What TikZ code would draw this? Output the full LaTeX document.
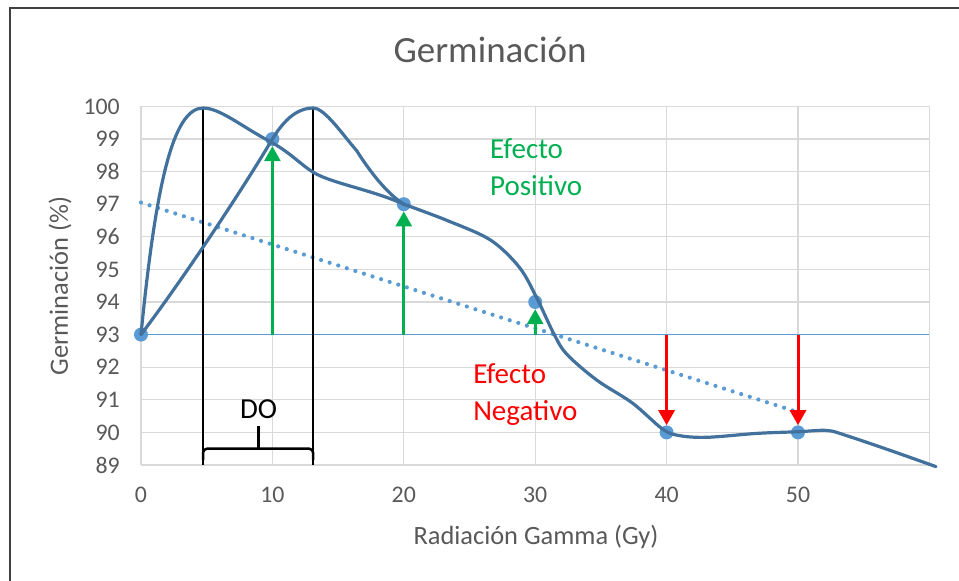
\documentclass[tikz,border=0pt]{standalone}
\usepackage{fontspec}
\setmainfont{Carlito}
\usepackage{tikz}
\usetikzlibrary{arrows.meta}
\usepackage{xcolor}
\definecolor{txtgray}{HTML}{595959}
\definecolor{gridgray}{HTML}{D9D9D9}
\definecolor{ptblue}{HTML}{5B9BD5}
\definecolor{curveblue}{HTML}{41719C}
\definecolor{posgreen}{HTML}{00B050}
\definecolor{negred}{HTML}{FF0000}
\tikzset{
  gridline/.style={draw=gridgray, line width=1.2pt},
  curve/.style={draw=curveblue, line width=3.2pt, line cap=round, line join=round},
  dot/.style={circle, fill=ptblue, minimum size=14pt, inner sep=0pt},
  ticklabel/.style={text=txtgray, font=\fontsize{23.8}{28}\selectfont, inner sep=0pt},
  efecto/.style={align=left, anchor=west, inner sep=0pt, font=\fontsize{29}{37}\selectfont},
  posarrow/.style={draw=posgreen, line width=3pt, -{Triangle[width=16pt,length=15pt]}},
  negarrow/.style={draw=negred, line width=3pt, -{Triangle[width=16pt,length=15pt]}}
}

\begin{document}
\begin{tikzpicture}
\useasboundingbox (0pt,0pt) rectangle (959pt,581pt);
% outer frame
\draw[black!75, line width=2pt] (10pt,0pt) |- (959pt,573pt);
\node[text=txtgray, font=\fontsize{37}{44}\selectfont] (title) at (490pt,531pt) {Germinación};
\node[text=txtgray, font=\fontsize{26.4}{32}\selectfont] (xlabel) at (536pt,44pt) {Radiación Gamma (Gy)};
\node[text=txtgray, font=\fontsize{26.4}{32}\selectfont, rotate=90] (ylabel) at (60pt,295pt) {Germinación (\%)};

\begin{scope}[shift={(141pt,-2785.4pt)}, x=13.14pt, y=32.6pt]
% grid
\foreach \y in {89,...,100}
  \draw[gridline] (0,\y) -- (60,\y);
\foreach \x in {0,10,...,60}
  \draw[gridline] (\x,89) -- (\x,100);
% axis labels
\foreach \y in {89,...,100}
  \node[ticklabel, anchor=east] (yt\y) at (-1.6,\y) {\y};
\foreach \x in {0,10,...,50}
  \node[ticklabel] (xt\x) at (\x,88.07) {\x};

% base line and trend
\draw[ptblue, line width=1.5pt] (0,93) -- (60,93);
\draw[ptblue, line width=4.2pt, line cap=round, dash pattern=on 0pt off 9pt] (0,97.05) -- (50,90.62);

% data points
\node[dot] (p0) at (0,93) {};
\node[dot] (p10) at (10,99) {};
\node[dot] (p20) at (20,97) {};
\node[dot] (p30) at (30,94) {};
\node[dot] (p40) at (40,90) {};
\node[dot] (p50) at (50,90) {};

% optimal dose lines
\coordinate (do1) at (4.72,99.95);
\coordinate (do2) at (13.1,99.95);
\draw[black, line width=1.5pt] (do1) -- (4.72,89);
\draw[black, line width=1.5pt] (do2) -- (13.1,89);

% curves
\draw[curve] (p0.center) .. controls (1.1,97.5) and (2.4,99.95) .. (do1)
  .. controls (6,99.95) and (7.6,99.4) .. (9.7,98.95)
  .. controls (11.3,98.61) and (12.2,98.2) .. (13.1,97.98)
  .. controls (14.5,97.64) and (17.5,97.45) .. (p20.center);
\draw[curve] (p0.center) .. controls (3,94.6) and (7.5,97.3) .. (p10.center)
  .. controls (11.2,99.8) and (12.3,99.95) .. (do2)
  .. controls (14,99.95) and (15.4,99.1) .. (16.4,98.65)
  .. controls (17.5,97.95) and (18.8,97.3) .. (p20.center);
\draw[curve] plot[smooth, tension=0.55] coordinates {(20,97) (23.3,96.5) (26.6,95.9) (28.8,95.06) (30.1,94.14) (31.4,93.04) (32.4,92.4) (34.7,91.6) (37.4,90.9) (39.7,90.1) (41,89.9) (43.1,89.85) (46.9,89.97) (50,90.02) (52.2,90.06) (53.7,89.9) (57,89.45) (60.5,88.95)};

% brace
\draw[black, line width=2.5pt, rounded corners=4pt] (4.72,89.15) |- (13.1,89.5) -- (13.1,89.15);
\draw[black, line width=2.5pt] (8.95,89.5) -- (8.95,90.2);
\node[font=\fontsize{29}{34}\selectfont, inner sep=0pt] (do) at (8.95,90.71) {DO};

% effects
\coordinate (b10) at (10,93);
\coordinate (b20) at (20,93);
\coordinate (b30) at (30,93);
\coordinate (b40) at (40,93);
\coordinate (b50) at (50,93);
\draw[posarrow] (b10) -- (p10.south);
\draw[posarrow] (b20) -- (p20.south);
\draw[posarrow] (b30) -- (p30.south);
\draw[negarrow] (b40) -- (p40.north);
\draw[negarrow] (b50) -- (p50.north);
\node[efecto, text=posgreen] (pos) at (26.56,98.14) {Efecto\\Positivo};
\node[efecto, text=negred] (neg) at (25.27,91.15) {Efecto\\Negativo};
\end{scope}
\end{tikzpicture}
\end{document}
